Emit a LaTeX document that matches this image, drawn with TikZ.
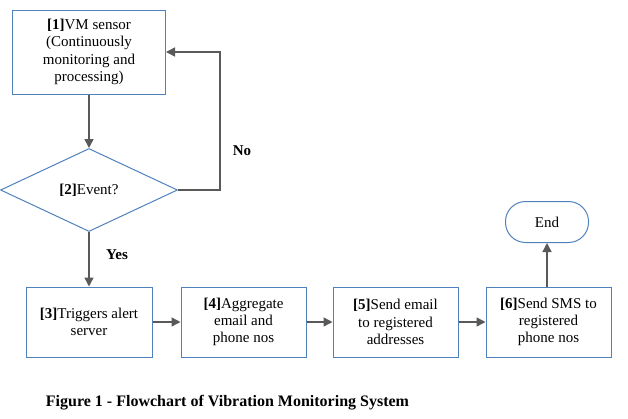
\documentclass[tikz,border=0pt]{standalone}
\usepackage{fontspec}
\setmainfont{Liberation Serif}
\usetikzlibrary{shapes.geometric,arrows.meta}
\definecolor{boxblue}{RGB}{79,129,189}
\definecolor{arrowgray}{RGB}{89,89,89}
\begin{document}
\begin{tikzpicture}[x=1pt,y=-1pt,
  box/.style={draw=boxblue, line width=1pt, align=center, inner sep=0pt, font=\fontsize{15}{17.2}\selectfont},
  arr/.style={draw=arrowgray, line width=1.4pt, -{Triangle[length=9pt,width=9pt]}},
  lbl/.style={font=\fontsize{15}{17}\selectfont\bfseries}]
\useasboundingbox (0,0) rectangle (628,418);
\node[box, minimum width=153pt, minimum height=84pt] (n1) at (89,52) {\textbf{[1]}VM sensor\\(Continuously\\monitoring and\\processing)};
\node[box, diamond, minimum width=177pt, minimum height=83pt] (n2) at (89,190) {\textbf{[2]}Event?};
\node[box, minimum width=126pt, minimum height=70pt] (n3) at (89,322) {\textbf{[3]}Triggers alert\\server};
\node[box, minimum width=125pt, minimum height=70pt] (n4) at (243.5,322) {\textbf{[4]}Aggregate\\email and\\phone nos};
\node[box, minimum width=125pt, minimum height=70pt] (n5) at (395.5,322) {\textbf{[5]}Send email\\to registered\\addresses};
\node[box, minimum width=125pt, minimum height=70pt] (n6) at (548.5,322) {\textbf{[6]}Send SMS to\\registered\\phone nos};
\node[box, rounded corners=20pt, minimum width=83pt, minimum height=41pt] (end) at (547,222) {End};
\coordinate (c1) at (220,190);
\coordinate (c2) at (220,52);
\draw[arr] (n1.south) -- (n2.north);
\draw[arr] (n2.east) -- (c1) -- (c2) -- (n1.east);
\draw[arr] (n2.south) -- (n3.north);
\draw[arr] (n3.east) -- (n4.west);
\draw[arr] (n4.east) -- (n5.west);
\draw[arr] (n5.east) -- (n6.west);
\draw[arr] (n6.north -| end.south) -- (end.south);
\node[lbl] (no) at (242,151) {No};
\node[lbl] (yes) at (117,255) {Yes};
\node[font=\fontsize{16}{18}\selectfont\bfseries] (cap) at (227.5,403) {Figure 1 - Flowchart of Vibration Monitoring System};
\end{tikzpicture}
\end{document}
